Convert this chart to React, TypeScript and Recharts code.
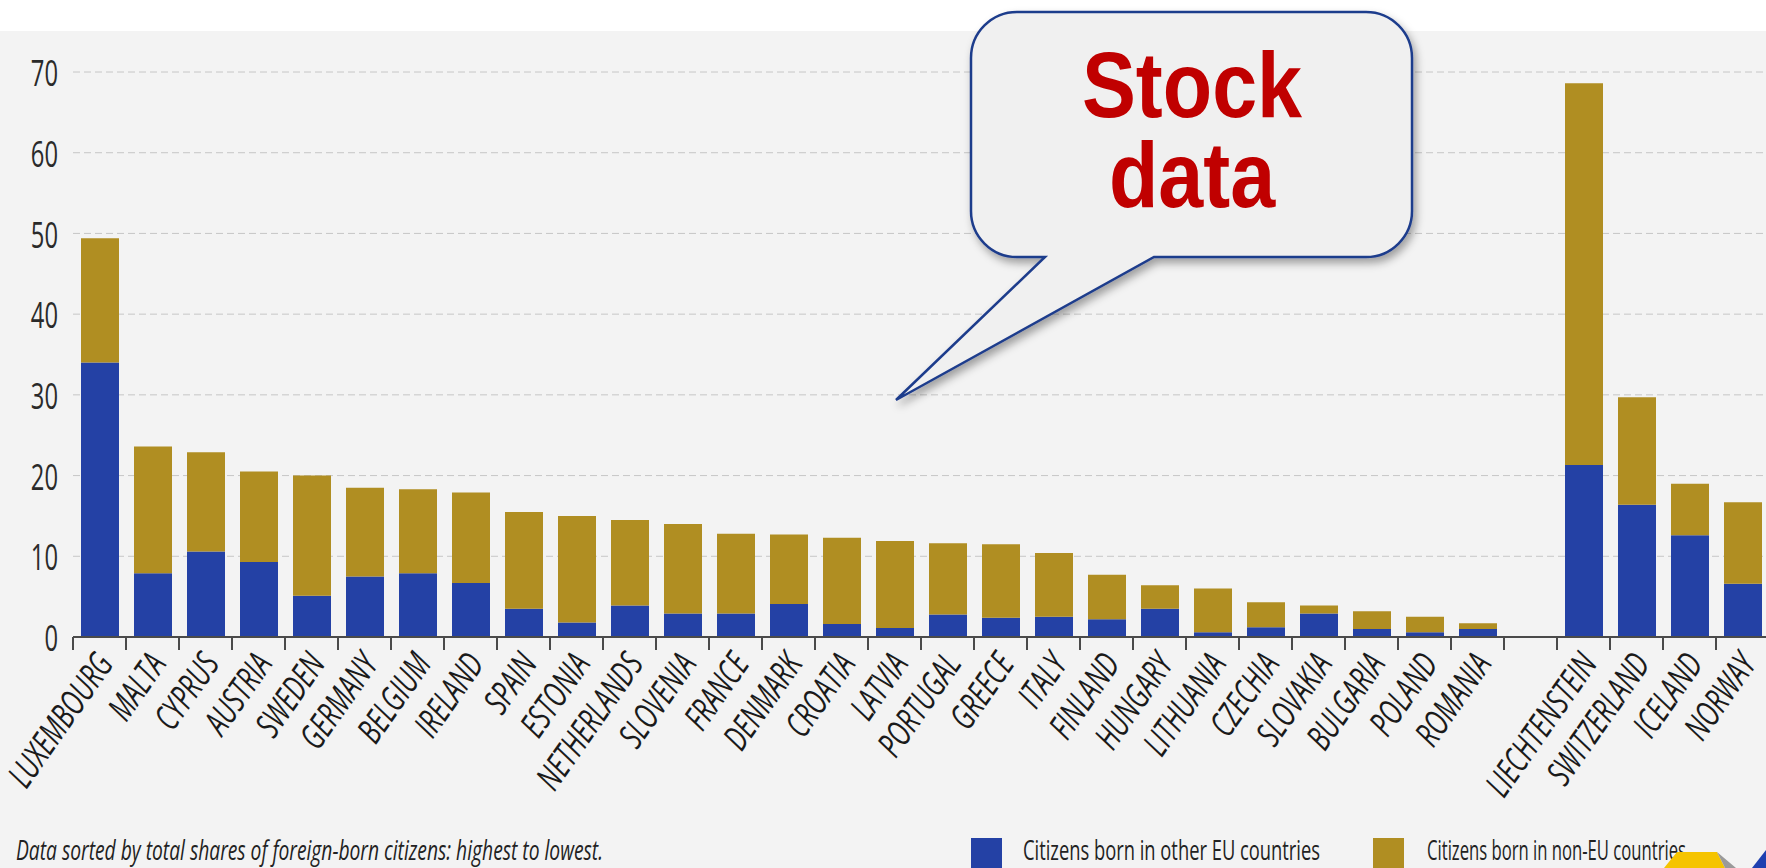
import React from "react";
import { Bar, BarChart, CartesianGrid, Legend, XAxis, YAxis } from "recharts";

// EU-27 sorted by total share of foreign-born citizens, then a gap, then EFTA
const COUNTRIES = [
  "LUXEMBOURG", "MALTA", "CYPRUS", "AUSTRIA", "SWEDEN", "GERMANY", "BELGIUM", "IRELAND",
  "SPAIN", "ESTONIA", "NETHERLANDS", "SLOVENIA", "FRANCE", "DENMARK", "CROATIA", "LATVIA",
  "PORTUGAL", "GREECE", "ITALY", "FINLAND", "HUNGARY", "LITHUANIA", "CZECHIA", "SLOVAKIA",
  "BULGARIA", "POLAND", "ROMANIA", " ", "LIECHTENSTEIN", "SWITZERLAND", "ICELAND", "NORWAY",
];

const BORN_OTHER_EU = [
  34.0, 7.9, 10.6, 9.3, 5.1, 7.5, 7.9, 6.7,
  3.5, 1.8, 3.9, 2.9, 2.9, 4.1, 1.6, 1.1,
  2.8, 2.4, 2.5, 2.2, 3.5, 0.6, 1.2, 2.9,
  1.0, 0.6, 1.0, null, 21.3, 16.4, 12.6, 6.6,
];

const BORN_NON_EU = [
  15.4, 15.7, 12.3, 11.2, 14.9, 11.0, 10.4, 11.2,
  12.0, 13.2, 10.6, 11.1, 9.9, 8.6, 10.7, 10.8,
  8.8, 9.1, 7.9, 5.5, 2.9, 5.4, 3.1, 1.0,
  2.2, 1.9, 0.7, null, 47.3, 13.3, 6.4, 10.1,
];

const Y_TICKS = [0, 10, 20, 30, 40, 50, 60, 70];
const SERIES_NAMES = ["Citizens born in other EU countries", "Citizens born in non-EU countries"];
const NOTE = "Data sorted by total shares of foreign-born citizens: highest to lowest.";
const CALLOUT_LINES = ["Stock", "data"];

const BLUE = "#2441a5";
const GOLD = "#b08e22";
const FONT = "'Open Sans', 'Liberation Sans', sans-serif";

const W = 1766;
const H = 868;
const CHART_W = 1769;
const PLOT_LEFT = 73;
const AXIS_Y = 637;
const BAND = (CHART_W - PLOT_LEFT) / COUNTRIES.length;

const data = COUNTRIES.map((country, i) => ({
  country,
  otherEu: BORN_OTHER_EU[i],
  nonEu: BORN_NON_EU[i],
}));

function CountryTick(props: any) {
  const { x, y, payload } = props;
  const edge = x - BAND / 2;
  return (
    <g>
      <line x1={edge} x2={edge} y1={y} y2={y + 13} stroke="#4a4a4a" strokeWidth={2} />
      <text
        transform={`translate(${x + 15},${y + 27}) rotate(-55) scale(0.7,1)`}
        textAnchor="end"
        fontFamily={FONT}
        fontSize={35}
        fontStyle="italic"
        fill="#1a1a1a"
      >
        {payload.value}
      </text>
    </g>
  );
}

function ValueTick(props: any) {
  const { x, y, payload } = props;
  return (
    <text
      transform={`translate(${x},${y}) scale(0.66,1)`}
      textAnchor="end"
      dominantBaseline="central"
      fontFamily={FONT}
      fontSize={36}
      fill="#2a2a2a"
    >
      {payload.value}
    </text>
  );
}

const LEGEND_SPOTS: Record<string, { box: number; text: number; len: number }> = {
  [SERIES_NAMES[0]]: { box: 971, text: 1023, len: 297 },
  [SERIES_NAMES[1]]: { box: 1373, text: 1427, len: 259 },
};

function LegendContent(props: any) {
  const items = props.payload || [];
  return (
    <svg width={W} height={48} style={{ display: "block" }}>
      <text x={16} y={40} fontFamily={FONT} fontSize={27} fontStyle="italic" fill="#222" textLength={587} lengthAdjust="spacingAndGlyphs">
        {NOTE}
      </text>
      {items.map((it: any) => {
        const s = LEGEND_SPOTS[it.value];
        if (!s) return null;
        return (
          <g key={it.value}>
            <rect x={s.box} y={18} width={31} height={30} fill={it.color} />
            <text x={s.text} y={40} fontFamily={FONT} fontSize={27} fill="#222" textLength={s.len} lengthAdjust="spacingAndGlyphs">
              {it.value}
            </text>
          </g>
        );
      })}
    </svg>
  );
}

function Callout() {
  const l = 971, r = 1412, t = 12, b = 257, rad = 46;
  const d = [
    `M ${l + rad} ${t}`,
    `L ${r - rad} ${t}`,
    `A ${rad} ${rad} 0 0 1 ${r} ${t + rad}`,
    `L ${r} ${b - rad}`,
    `A ${rad} ${rad} 0 0 1 ${r - rad} ${b}`,
    `L 1154 ${b}`,
    `L 896 400`,
    `L 1045 ${b}`,
    `L ${l + rad} ${b}`,
    `A ${rad} ${rad} 0 0 1 ${l} ${b - rad}`,
    `L ${l} ${t + rad}`,
    `A ${rad} ${rad} 0 0 1 ${l + rad} ${t}`,
    "Z",
  ].join(" ");
  return (
    <svg width={W} height={H} style={{ position: "absolute", left: 0, top: 0, pointerEvents: "none" }}>
      <defs>
        <filter id="calloutShadow" x="-10%" y="-10%" width="130%" height="130%">
          <feDropShadow dx={3} dy={5} stdDeviation={4} floodColor="#000" floodOpacity={0.35} />
        </filter>
      </defs>
      <path d={d} fill="#f0f0f0" stroke="#1f3c8c" strokeWidth={2.5} filter="url(#calloutShadow)" />
      {CALLOUT_LINES.map((line, i) => (
        <text
          key={line}
          transform={`translate(1192,${117 + i * 90}) scale(0.94,1.08)`}
          textAnchor="middle"
          fontFamily="'Liberation Sans', Arial, sans-serif"
          fontWeight={700}
          fontSize={86}
          fill="#c00000"
        >
          {line}
        </text>
      ))}
      {/* corner logo, partly cut off */}
      <polygon points="1664,868 1677,852 1717,852 1725,868" fill="#f5c400" />
      <polygon points="1717,852 1736,868 1725,868" fill="#9a9a9a" />
      <polygon points="1752,868 1766,850 1766,868" fill="#1e3fb0" />
    </svg>
  );
}

export default function App() {
  return (
    <div style={{ position: "fixed", left: 0, top: 0, width: W, height: H, overflow: "hidden", background: "#ffffff" }}>
      <div style={{ position: "absolute", left: 0, top: 31, width: W, height: H - 31, background: "#f3f3f3" }} />
      <div style={{ position: "absolute", left: 0, top: 0 }}>
        <BarChart
          width={CHART_W}
          height={H}
          data={data}
          margin={{ top: 72, right: 0, left: PLOT_LEFT - 60, bottom: 0 }}
          barSize={38}
        >
          <CartesianGrid vertical={false} stroke="#c6c6c6" strokeDasharray="7 4" />
          <XAxis
            dataKey="country"
            interval={0}
            height={H - AXIS_Y}
            tickSize={0}
            tickMargin={0}
            tickLine={false}
            axisLine={{ stroke: "#4a4a4a", strokeWidth: 2 }}
            tick={<CountryTick />}
          />
          <YAxis
            width={60}
            domain={[0, 70]}
            ticks={Y_TICKS}
            axisLine={false}
            tickLine={false}
            tickSize={0}
            tickMargin={15}
            tick={<ValueTick />}
          />
          <Legend
            content={<LegendContent />}
            layout="horizontal"
            verticalAlign="middle"
            align="center"
            wrapperStyle={{ position: "absolute", left: 0, top: 820, width: W, height: 48 }}
          />
          <Bar dataKey="otherEu" name={SERIES_NAMES[0]} stackId="a" fill={BLUE} isAnimationActive={false} />
          <Bar dataKey="nonEu" name={SERIES_NAMES[1]} stackId="a" fill={GOLD} isAnimationActive={false} />
        </BarChart>
      </div>
      <Callout />
    </div>
  );
}
